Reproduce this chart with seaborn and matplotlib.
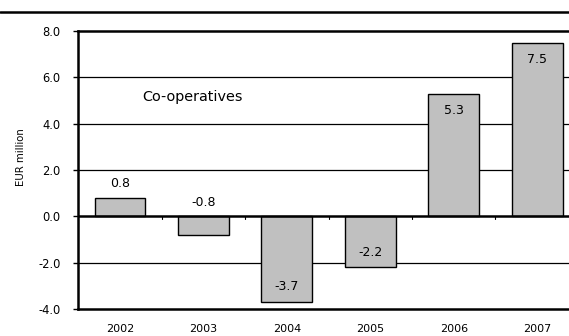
import matplotlib
matplotlib.use("Agg")
import matplotlib.pyplot as plt
import matplotlib.lines as mlines
import seaborn as sns
import pandas as pd

years = ["2002", "2003", "2004", "2005", "2006", "2007"]
values = [0.8, -0.8, -3.7, -2.2, 5.3, 7.5]
y_ticks = [-4.0, -2.0, 0.0, 2.0, 4.0, 6.0, 8.0]
series_name = "Co-operatives"
y_label = "EUR million"

sns.set_theme(style="white", rc={"text.color": "black",
                                 "axes.labelcolor": "black",
                                 "xtick.color": "black",
                                 "ytick.color": "black"})
plt.rcParams["font.family"] = ["DejaVu Sans"]

df = pd.DataFrame({"year": years, "value": values})

fig = plt.figure(figsize=(5.69, 3.36), dpi=100)
ax = fig.add_axes([78.3 / 569, 27 / 336, 500.6 / 569, 278 / 336])

sns.barplot(data=df, x="year", y="value", ax=ax, color="#c0c0c0",
            edgecolor="black", linewidth=1.0, width=0.61, saturation=1,
            zorder=3)

ax.set_xlim(-0.5, len(years) - 0.5)
ax.set_ylim(y_ticks[0], y_ticks[-1])
ax.set_yticks(y_ticks)
ax.set_yticklabels([f"{t:.1f}" for t in y_ticks], fontsize=8.3)
ax.set_xlabel("")
ax.set_ylabel(y_label, fontsize=7.3)
ax.yaxis.set_label_coords(-0.104, 0.545)

# horizontal gridlines
for t in y_ticks[1:-1]:
    lw = 1.8 if t == 0 else 0.9
    ax.axhline(t, color="black", linewidth=lw, zorder=2 if t != 0 else 4)

ax.spines["right"].set_visible(False)
for side in ["left", "top", "bottom"]:
    ax.spines[side].set_visible(True)
    ax.spines[side].set_color("black")
    ax.spines[side].set_linewidth(1.8)

ax.tick_params(axis="y", which="major", left=True, length=3.6, width=1,
               color="black", pad=9, labelcolor="black")
ax.tick_params(axis="x", which="major", bottom=False, length=0, pad=11,
               labelsize=8, labelcolor="black")

# category separator ticks on the zero line
for i in range(1, len(years)):
    ax.plot([i - 0.5, i - 0.5], [0, -0.13], color="black", linewidth=0.8,
            zorder=4)

# value labels
for i, v in enumerate(values):
    if v > 2:
        anchor, dy = v, -12.5
    elif v >= 0:
        anchor, dy = v, 10
    elif v > -1:
        anchor, dy = 0, 10
    else:
        anchor, dy = v, 11
    ax.annotate(f"{v:.1f}", (i, anchor), xytext=(0, dy),
                textcoords="offset points", ha="center", va="center",
                fontsize=9, color="black", zorder=5)

ax.text(0.27, 5.15, series_name, ha="left", va="center", fontsize=10.4,
        color="black", zorder=5)

# rule under the heading
fig.add_artist(mlines.Line2D([0, 1], [1 - 12 / 336, 1 - 12 / 336],
                             color="black", linewidth=1.8,
                             transform=fig.transFigure))

fig.savefig("out.png", dpi=100)
